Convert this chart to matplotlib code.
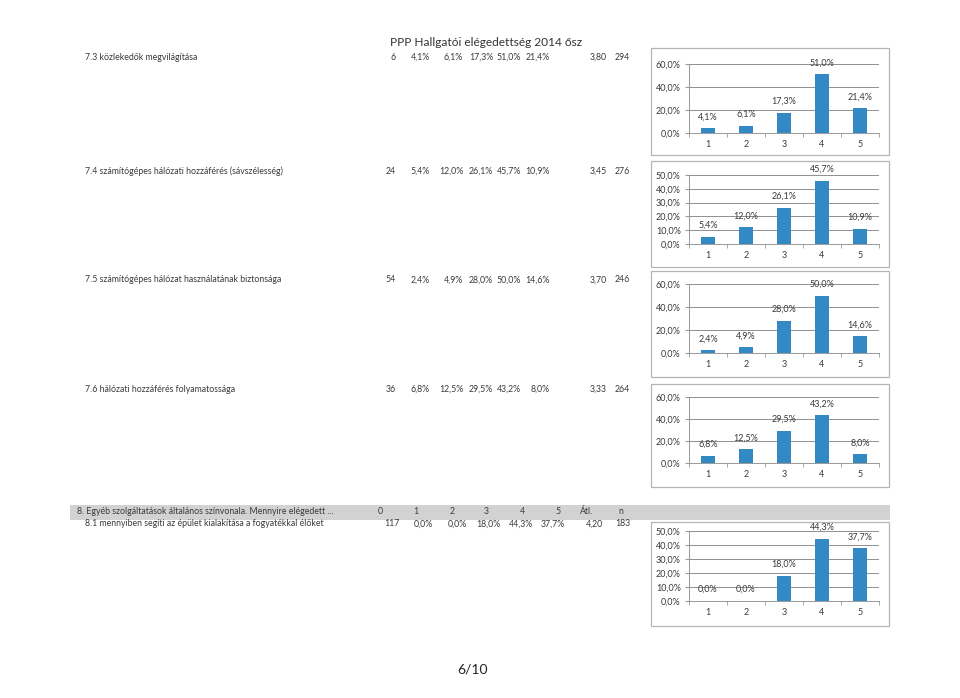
import matplotlib
matplotlib.use("Agg")
import matplotlib.pyplot as plt
from matplotlib.patches import Rectangle

plt.rcParams['font.family'] = ['Lato', 'DejaVu Sans']

W, H = 960, 698

# ---------------- data ----------------
title = "PPP Hallgatói elégedettség 2014 ősz"
categories = ["1", "2", "3", "4", "5"]
row_labels = [
    "7.3 közlekedők megvilágítása",
    "7.4 számítógépes hálózati hozzáférés (sávszélesség)",
    "7.5 számítógépes hálózat használatának biztonsága",
    "7.6 hálózati hozzáférés folyamatossága",
    "8.1 mennyiben segíti az épület kialakítása a fogyatékkal élőket",
]
section_header = "8. Egyéb szolgáltatások általános színvonala. Mennyire elégedett ..."
header_cols = ["0", "1", "2", "3", "4", "5", "Átl.", "n"]
no_answer = [6, 24, 54, 36, 117]
values_73 = [4.1, 6.1, 17.3, 51.0, 21.4]
values_74 = [5.4, 12.0, 26.1, 45.7, 10.9]
values_75 = [2.4, 4.9, 28.0, 50.0, 14.6]
values_76 = [6.8, 12.5, 29.5, 43.2, 8.0]
values_81 = [0.0, 0.0, 18.0, 44.3, 37.7]
averages = ["3,80", "3,45", "3,70", "3,33", "4,20"]
counts = [294, 276, 246, 264, 183]
y_max = [60, 50, 60, 60, 50]
y_step = [20, 10, 20, 20, 10]
page_label = "6/10"

all_values = [values_73, values_74, values_75, values_76, values_81]

# ---------------- layout ----------------
fig = plt.figure(figsize=(W / 100, H / 100), dpi=100)
fig.patch.set_facecolor("white")

def fx(x):
    return x / W

def fy(y):
    return 1 - y / H

def ftext(x, y, s, **kw):
    fig.text(fx(x), fy(y), s, **kw)

def pct(v):
    return f"{v:.1f}%".replace(".", ",")

TXT = "#3a3a3a"
BAR = "#3389c4"

# title
ftext(486, 42, title, ha="center", va="center", fontsize=8.6, color="#333333")

# gray section band
fig.patches.append(Rectangle((fx(70), fy(520)), fx(890) - fx(70), fy(505) - fy(520),
                             transform=fig.transFigure, facecolor="#d2d2d2",
                             edgecolor="none", zorder=0))

row_y = [57, 171, 280, 389, 524]
cols_7 = [396, 430, 463, 493, 521, 550, 607, 630]
cols_8 = [400, 433, 467, 500, 533, 565, 603, 630]
header_x = [378, 413, 450, 484, 520, 555, 580, 618]

for i, label in enumerate(row_labels):
    y = row_y[i]
    ftext(85, y, label, ha="left", va="center", fontsize=6.3, color=TXT)
    cols = cols_7 if i < 4 else cols_8
    cells = [str(no_answer[i])] + [pct(v) for v in all_values[i]] + [averages[i], str(counts[i])]
    for cx, c in zip(cols, cells):
        ftext(cx, y, c, ha="right", va="center", fontsize=6.3, color=TXT)

ftext(77, 512, section_header, ha="left", va="center", fontsize=6.3, color=TXT)
for hx, h in zip(header_x, header_cols):
    ftext(hx, 512, h, ha="left", va="center", fontsize=6.3, color=TXT)

# chart frames (outer boxes) and plot areas in pixels
boxes = [(651, 48, 889, 155), (651, 161, 889, 267), (651, 271, 889, 377),
         (651, 384, 889, 487), (651, 522, 889, 626)]
plots = [(689, 64, 879, 133), (689, 175, 879, 244), (689, 284, 879, 353),
         (689, 397, 879, 463), (689, 531, 879, 601)]

for k in range(5):
    bx0, by0, bx1, by1 = boxes[k]
    fig.patches.append(Rectangle((fx(bx0), fy(by1)), fx(bx1) - fx(bx0), fy(by0) - fy(by1),
                                 transform=fig.transFigure, facecolor="white",
                                 edgecolor="#b5b5b5", lw=0.9, zorder=1))
    px0, py0, px1, py1 = plots[k]
    ax = fig.add_axes([fx(px0), fy(py1), fx(px1) - fx(px0), fy(py0) - fy(py1)])
    ax.set_zorder(2)
    ax.patch.set_alpha(0)
    vals = all_values[k]
    xs = list(range(len(categories)))
    ax.bar(xs, vals, width=0.38, color=BAR, zorder=3)
    ax.set_xlim(-0.5, len(categories) - 0.5)
    ax.set_ylim(0, y_max[k])
    ticks = list(range(0, y_max[k] + 1, y_step[k]))
    ax.set_yticks(ticks)
    ax.set_yticklabels([pct(t) for t in ticks], fontsize=6.5, color=TXT)
    ax.set_xticks(xs)
    ax.set_xticklabels(categories, fontsize=6.5, color=TXT)
    ax.set_xticks([x + 0.5 for x in xs[:-1]] + [-0.5, len(xs) - 0.5], minor=True)
    ax.tick_params(axis="x", which="major", length=0, pad=5)
    ax.tick_params(axis="x", which="minor", length=3, color="#999999")
    ax.tick_params(axis="y", length=3, color="#999999", pad=3)
    ax.grid(axis="y", color="#8f8f8f", lw=0.7, zorder=0)
    for s in ["top", "right"]:
        ax.spines[s].set_visible(False)
    ax.spines["left"].set_color("#999999")
    ax.spines["bottom"].set_color("#999999")
    ax.spines["left"].set_linewidth(0.7)
    ax.spines["bottom"].set_linewidth(0.7)
    for x, v in zip(xs, vals):
        ax.annotate(pct(v), (x, v), xytext=(0, 5), textcoords="offset points",
                    ha="center", va="bottom", fontsize=6.5, color=TXT, zorder=4)

ftext(472, 670, page_label, ha="center", va="center", fontsize=10, color="#222222")

fig.savefig("out.png", dpi=100, facecolor="white")
